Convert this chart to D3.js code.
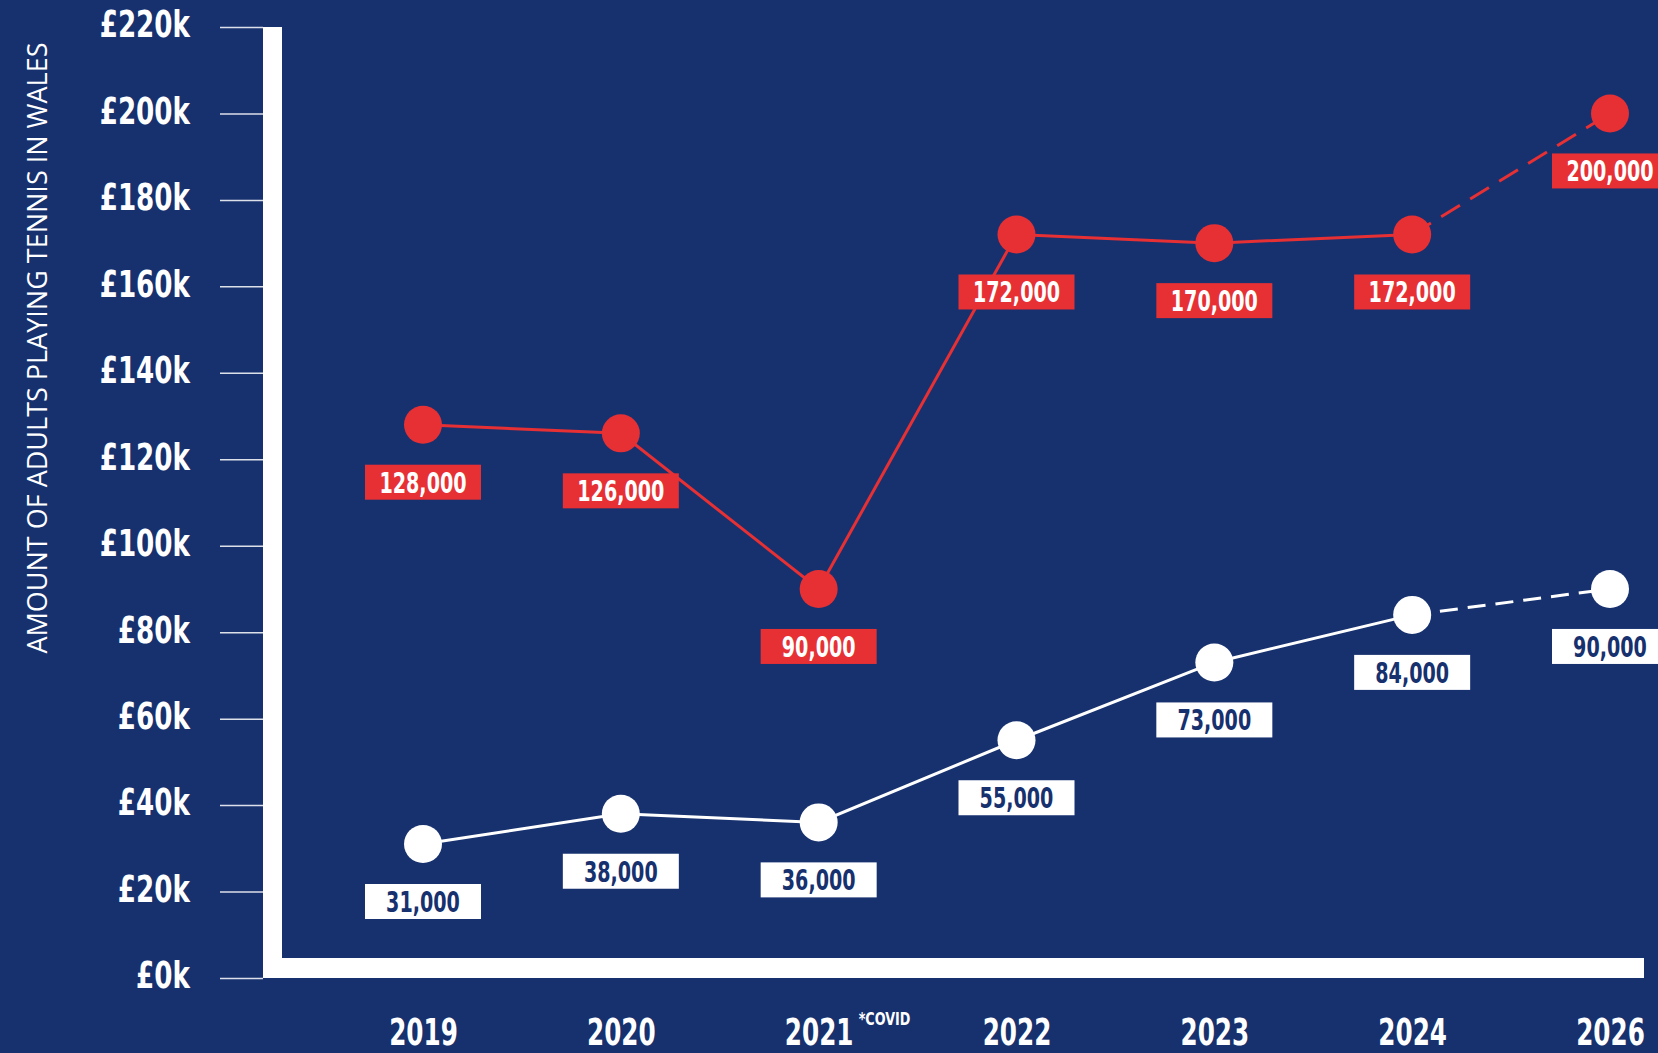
<meta charset="utf-8">
<html>
<head>
<style>
  html, body { margin: 0; padding: 0; background: #17316f; }
  svg { display: block; }
  .num { font-family: "DejaVu Sans", sans-serif; font-weight: 700; }
</style>
</head>
<body>
<script src="https://cdn.jsdelivr.net/npm/d3@7"></script>
<script>

    // data
    var years        = ["2019", "2020", "2021", "2022", "2023", "2024", "2026"];
    var redValues    = [128000, 126000, 90000, 172000, 170000, 172000, 200000];
    var whiteValues  = [31000, 38000, 36000, 55000, 73000, 84000, 90000];
    var yTickValues  = [0, 20000, 40000, 60000, 80000, 100000, 120000, 140000, 160000, 180000, 200000, 220000];
    var yTitle       = "AMOUNT OF ADULTS PLAYING TENNIS IN WALES";
    var covidNote    = "*COVID";
    var projectedFrom = "2024";   // segment after this year is dashed

    var width  = 1658,
        height = 1053;

    var navy = "#17316f",
        red  = "#e63034";

    // no condensed face installed, so squeeze the bold one
    function squeeze(tx, ty, sx) {
        return "translate(" + tx + "," + ty + ") scale(" + sx + ",1)";
    }

    var svg = d3.select("body")
                .append("svg")
                .attr("width", width)
                .attr("height", height);

    svg.append("rect")
       .attr("width", width)
       .attr("height", height)
       .attr("fill", navy);

    var x = d3.scalePoint()
              .domain(years)
              .range([423, 1610]);

    var y = d3.scaleLinear()
              .domain([0, 220000])
              .range([978, 27]);

    // y axis: ticks + labels
    var yAxis = d3.axisLeft(y)
                  .tickValues(yTickValues)
                  .tickSize(43)
                  .tickPadding(30)
                  .tickFormat(function (d) { return "£" + (d / 1000) + "k"; });

    var gy = svg.append("g")
                .attr("transform", "translate(263,0)")
                .call(yAxis);
    gy.select(".domain").remove();
    gy.selectAll(".tick line")
      .attr("stroke", "#fff")
      .attr("stroke-opacity", 0.85)
      .attr("stroke-width", 1.5);
    gy.selectAll(".tick text")
      .attr("class", "num")
      .attr("fill", "#fff")
      .attr("font-size", 38)
      .attr("x", 0)
      .attr("dy", "0.26em")
      .attr("transform", squeeze(-73, 0, 0.69));

    // thick white frame
    svg.append("rect")
       .attr("x", 263).attr("y", y(220000))
       .attr("width", 19).attr("height", y(0) - y(220000))
       .attr("fill", "#fff");
    svg.append("rect")
       .attr("x", 263).attr("y", y(0) - 20)
       .attr("width", 1644 - 263).attr("height", 20)
       .attr("fill", "#fff");

    // x axis labels
    var xAxis = d3.axisBottom(x).tickSize(0).tickPadding(0);
    var gx = svg.append("g")
                .attr("transform", "translate(0,1045)")
                .call(xAxis);
    gx.select(".domain").remove();
    gx.selectAll(".tick text")
      .attr("class", "num")
      .attr("fill", "#fff")
      .attr("font-size", 38)
      .attr("dy", 0)
      .attr("y", 0)
      .attr("transform", squeeze(0, 0, 0.65));

    svg.append("text")
       .attr("class", "num")
       .attr("transform", squeeze(x("2021") + 40, 1025, 0.71))
       .attr("fill", "#fff")
       .attr("font-size", 18)
       .text(covidNote);

    // y title
    svg.append("text")
       .attr("transform", "translate(47,348) rotate(-90)")
       .attr("text-anchor", "middle")
       .attr("fill", "#fff")
       .attr("font-family", "'Open Sans', sans-serif")
       .attr("font-size", 27)
       .text(yTitle);

    function drawSeries(values, color, textColor, dash) {
        var pts = years.map(function (yr, i) { return {year: yr, value: values[i]}; });
        var cut = years.indexOf(projectedFrom);

        var line = d3.line()
                     .x(function (d) { return x(d.year); })
                     .y(function (d) { return y(d.value); });

        svg.append("path")
           .datum(pts.slice(0, cut + 1))
           .attr("d", line)
           .attr("fill", "none")
           .attr("stroke", color)
           .attr("stroke-width", 3);

        svg.append("path")
           .datum(pts.slice(cut))
           .attr("d", line)
           .attr("fill", "none")
           .attr("stroke", color)
           .attr("stroke-width", 3)
           .attr("stroke-dasharray", dash);

        var g = svg.selectAll(null)
                   .data(pts)
                   .enter()
                   .append("g")
                   .attr("transform", function (d) {
                       return "translate(" + x(d.year) + "," + y(d.value) + ")";
                   });

        g.append("circle")
         .attr("r", 19)
         .attr("fill", color);

        g.append("rect")
         .attr("x", -58).attr("y", 40)
         .attr("width", 116).attr("height", 35)
         .attr("fill", color);

        g.append("text")
         .attr("class", "num")
         .attr("text-anchor", "middle")
         .attr("transform", squeeze(0, 68, 0.66))
         .attr("fill", textColor)
         .attr("font-size", 29)
         .text(function (d) { return d3.format(",")(d.value); });
    }

    drawSeries(redValues, red, "#fff", "22,12");
    drawSeries(whiteValues, "#fff", navy, "18,10");

</script>
</body>
</html>
